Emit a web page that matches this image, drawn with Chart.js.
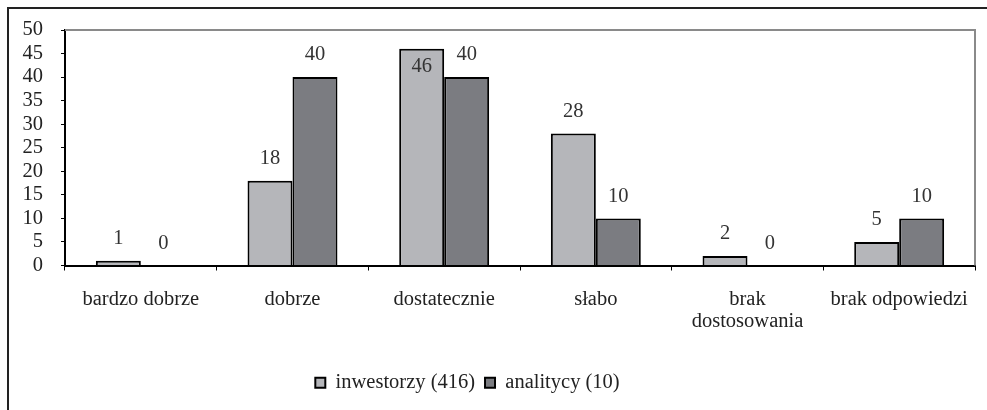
<!DOCTYPE html>
<html>
<head>
<meta charset="utf-8">
<script src="https://cdn.jsdelivr.net/npm/chart.js@4"></script>
<style>
  html, body { margin: 0; padding: 0; background: #fff; }
  #wrap { width: 987px; height: 410px; }
</style>
</head>
<body>
<div id="wrap"><canvas id="chart" width="987" height="410"></canvas></div>
<script>
const categories = ["bardzo dobrze", "dobrze", "dostatecznie", "słabo", ["brak", "dostosowania"], "brak odpowiedzi"];
const inwestorzy = [1, 18, 46, 28, 2, 5];
const analitycy = [0, 40, 40, 10, 0, 10];
const seriesNames = ["inwestorzy (416)", "analitycy (10)"];

const serif = "'Liberation Serif', 'Times New Roman', serif";
const fontSize = 20.5;

// frame round the whole picture and gray top/right edges of the plot
const framePlugin = {
    id: "frame",
    afterLayout(chart) {
        // legend sits a bit left of the canvas centre in the original
        if (chart.legend) {
            chart.legend.left -= 20;
            chart.legend.right -= 20;
        }
    },
    beforeDraw(chart) {
        const ctx = chart.ctx;
        ctx.save();
        ctx.strokeStyle = "#222";
        ctx.lineWidth = 2;
        ctx.strokeRect(8, 8, 1200, 1200);
        ctx.restore();
    },
    afterDraw(chart) {
        const a = chart.chartArea;
        const ctx = chart.ctx;
        ctx.save();
        ctx.strokeStyle = "#8a8a8a";
        ctx.lineWidth = 2;
        ctx.beginPath();
        ctx.moveTo(a.left, a.top);
        ctx.lineTo(a.right, a.top);
        ctx.lineTo(a.right, a.bottom);
        ctx.stroke();
        ctx.restore();
    },
};

// value labels over the bars
const valueLabels = {
    id: "valueLabels",
    afterDatasetsDraw(chart) {
        const ctx = chart.ctx;
        const top = chart.chartArea.top;
        ctx.save();
        ctx.font = fontSize + "px " + serif;
        ctx.fillStyle = "#333";
        ctx.textAlign = "center";
        ctx.textBaseline = "middle";
        chart.data.datasets.forEach((ds, i) => {
            chart.getDatasetMeta(i).data.forEach((el, j) => {
                let y = el.y - 22;
                if (y - 9 < top) y = el.y + 18;
                ctx.fillText(String(ds.data[j]), el.x, y);
            });
        });
        ctx.restore();
    },
};

new Chart(document.getElementById("chart"), {
    type: "bar",
    data: {
        labels: categories,
        datasets: [
            {
                label: seriesNames[0],
                data: inwestorzy,
                backgroundColor: "#b5b6ba",
                borderColor: "#000",
                borderWidth: 2,
            },
            {
                label: seriesNames[1],
                data: analitycy,
                backgroundColor: "#7b7c81",
                borderColor: "#000",
                borderWidth: 2,
            },
        ],
    },
    options: {
        responsive: false,
        animation: false,
        layout: { padding: { left: 0, top: 30, right: 12, bottom: 7 } },
        datasets: {
            bar: { categoryPercentage: 0.593, barPercentage: 1 },
        },
        plugins: {
            legend: {
                position: "bottom",
                labels: {
                    font: { family: serif, size: fontSize },
                    color: "#222",
                    boxWidth: 10,
                    boxHeight: 10,
                    padding: 10,
                },
            },
            tooltip: { enabled: false },
        },
        scales: {
            x: {
                grid: {
                    offset: true,
                    drawOnChartArea: false,
                    tickLength: 5,
                    color: "#000",
                },
                border: { color: "#000", width: 2 },
                ticks: {
                    font: { family: serif, size: fontSize, lineHeight: 1.07 },
                    color: "#222",
                    padding: 18,
                    maxRotation: 0,
                    autoSkip: false,
                },
                afterFit(scale) { scale.height = 97; },
            },
            y: {
                min: 0,
                max: 50,
                grid: {
                    drawOnChartArea: false,
                    tickLength: 4,
                    color: "#000",
                },
                border: { color: "#000", width: 2 },
                ticks: {
                    stepSize: 5,
                    autoSkip: false,
                    font: { family: serif, size: fontSize, lineHeight: 1 },
                    color: "#222",
                    padding: 18,
                },
                afterFit(scale) { scale.width = 65; },
            },
        },
    },
    plugins: [framePlugin, valueLabels],
});
</script>
</body>
</html>
